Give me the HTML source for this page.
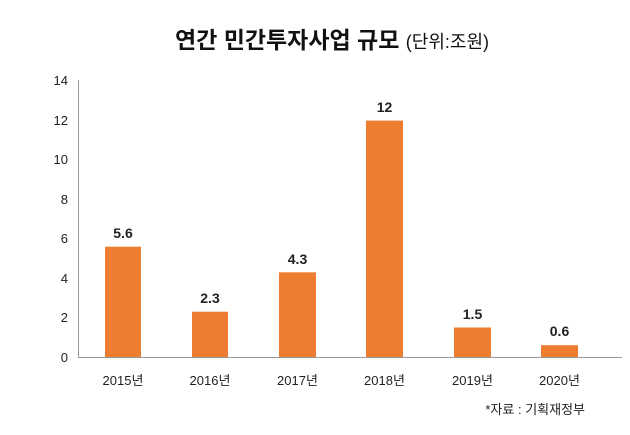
<!DOCTYPE html>
<html><head><meta charset="utf-8"><style>
body{margin:0;background:#fff;}
svg{display:block;font-family:"Liberation Sans","Noto Sans CJK KR",sans-serif;}
</style></head><body>
<svg width="630" height="435" viewBox="0 0 630 435">
<rect width="630" height="435" fill="#fff"/>
<text x="332" y="48" text-anchor="middle" font-size="23" font-weight="bold" fill="#111">연간 민간투자사업 규모 <tspan font-size="18" font-weight="normal">(단위:조원)</tspan></text>
<line x1="78.5" y1="80" x2="78.5" y2="357" stroke="#999"/>
<line x1="78" y1="357.5" x2="622" y2="357.5" stroke="#999"/>
<g font-size="13" fill="#222" text-anchor="end">
<text x="68" y="362">0</text><text x="68" y="322">2</text><text x="68" y="283">4</text><text x="68" y="243">6</text><text x="68" y="204">8</text><text x="68" y="164">10</text><text x="68" y="125">12</text><text x="68" y="85">14</text>
</g>
<g fill="#ED7D31">
<rect x="105" y="246.7" width="36" height="110.3"/>
<rect x="192" y="311.7" width="36" height="45.3"/>
<rect x="279" y="272.3" width="37" height="84.7"/>
<rect x="366" y="120.6" width="37" height="236.4"/>
<rect x="454" y="327.5" width="37" height="29.5"/>
<rect x="541" y="345.2" width="37" height="11.8"/>
</g>
<g font-size="14" font-weight="bold" fill="#222" text-anchor="middle">
<text x="123" y="238">5.6</text><text x="210" y="303">2.3</text><text x="297.5" y="264">4.3</text><text x="384.5" y="112">12</text><text x="472.5" y="319">1.5</text><text x="559.5" y="336">0.6</text>
</g>
<g font-size="13" fill="#222" text-anchor="middle">
<text x="123" y="385">2015년</text><text x="210" y="385">2016년</text><text x="297.5" y="385">2017년</text><text x="384.5" y="385">2018년</text><text x="472.5" y="385">2019년</text><text x="559.5" y="385">2020년</text>
</g>
<text x="585" y="414" text-anchor="end" font-size="13" fill="#222">*자료 : 기획재정부</text>
</svg>
</body></html>
